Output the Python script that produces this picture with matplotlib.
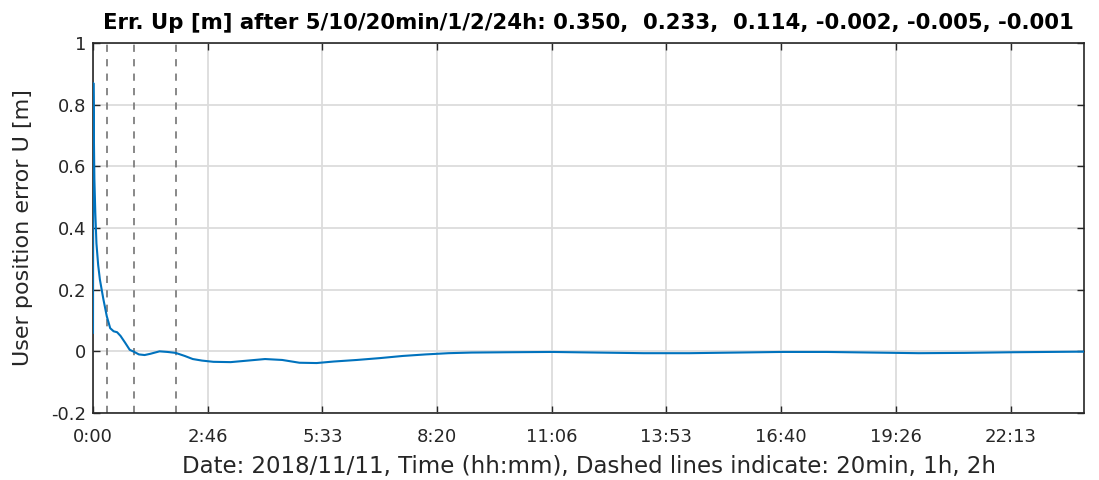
import matplotlib
matplotlib.use("Agg")
import numpy as np
from matplotlib import pyplot as plt
from matplotlib.ticker import FuncFormatter, MultipleLocator

# time since start of day [s] and up error [m]
t_sec = [0, 30, 60, 120, 200, 300, 450, 600, 900, 1200, 1500, 1800, 2100, 2400,
         2800, 3200, 3600, 4000, 4500, 5000, 5800, 6500, 7200, 8000, 8700, 9500,
         10500, 12000, 13500, 15000, 16500, 18000, 19500, 21000, 23000, 25000,
         27000, 29000, 31000, 33000, 36000, 40000, 44000, 48000, 52000, 56000,
         60000, 64000, 68000, 72000, 76000, 80000, 86400]
err_up = [0.06, 0.87, 0.75, 0.56, 0.45, 0.35, 0.28, 0.233, 0.17, 0.114, 0.075,
          0.065, 0.062, 0.05, 0.028, 0.005, -0.002, -0.010, -0.012, -0.008, 0.0,
          -0.002, -0.005, -0.015, -0.025, -0.030, -0.034, -0.035, -0.030, -0.025,
          -0.028, -0.037, -0.038, -0.033, -0.028, -0.022, -0.015, -0.010, -0.006,
          -0.004, -0.003, -0.002, -0.004, -0.006, -0.006, -0.004, -0.002, -0.002,
          -0.004, -0.006, -0.005, -0.003, -0.001]
dashed_sec = [1200, 3600, 7200]

title = ("Err. Up [m] after 5/10/20min/1/2/24h: 0.350,  0.233,  0.114, "
         "-0.002, -0.005, -0.001")
xlabel = "Date: 2018/11/11, Time (hh:mm), Dashed lines indicate: 20min, 1h, 2h"
ylabel = "User position error U [m]"

plt.rcParams["font.family"] = ["DejaVu Sans"]

fig = plt.figure(figsize=(10.99, 4.8), dpi=100)
ax = fig.add_axes([93 / 1099, 67 / 480, 991 / 1099, 370 / 480])

ax.plot(t_sec, err_up, color="#0072BD", linewidth=1.5, zorder=3)
for xs in dashed_sec:
    ax.axvline(xs, color="#7f7f7f", linestyle=(0, (4, 4)), linewidth=1.3, zorder=2)

ax.set_xlim(0, 86400)
ax.set_ylim(-0.2, 1)
ax.xaxis.set_major_locator(MultipleLocator(10000))
ax.yaxis.set_major_locator(MultipleLocator(0.2))


def hhmm(v, pos):
    m = int(v // 60)
    return f"{m // 60}:{m % 60:02d}"


ax.xaxis.set_major_formatter(FuncFormatter(hhmm))
ax.yaxis.set_major_formatter(FuncFormatter(lambda v, pos: f"{round(v, 1):g}"))

ax.grid(True, color="#dcdcdc", linewidth=1.3)
ax.set_axisbelow(True)
ax.tick_params(direction="in", top=True, right=True, length=5, width=1,
               color="#262626", labelsize=13, labelcolor="#262626")
ax.tick_params(axis="x", pad=11)
ax.tick_params(axis="y", pad=5)
for s in ax.spines.values():
    s.set_color("#262626")
    s.set_linewidth(1.2)

ax.set_title(title, fontsize=15.3, fontweight="bold", pad=10)
ax.set_xlabel(xlabel, fontsize=16.5, color="#262626", labelpad=6)
ax.set_ylabel(ylabel, fontsize=16, color="#262626", labelpad=13)

fig.savefig("out.png", dpi=100)
